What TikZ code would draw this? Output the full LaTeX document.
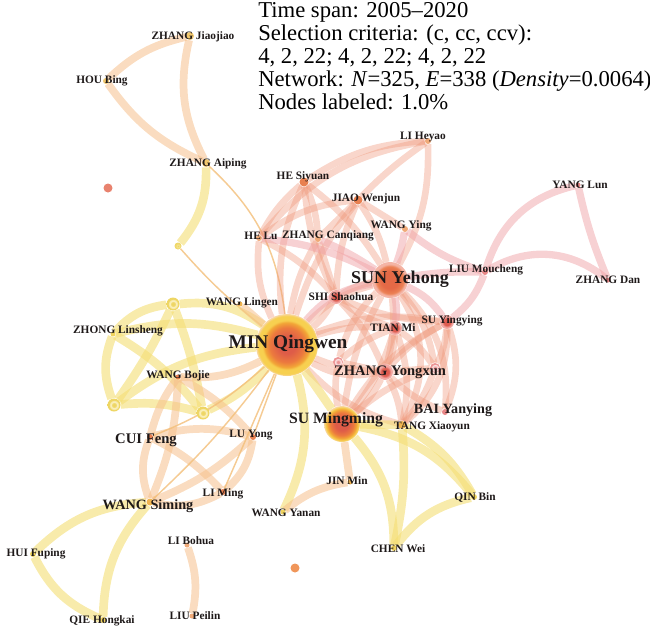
\documentclass[tikz,border=0pt]{standalone}
\usepackage{fontspec}
\setmainfont{Liberation Serif}
\definecolor{eY}{RGB}{244,222,115}
\definecolor{eO}{RGB}{246,192,140}
\definecolor{eS}{RGB}{238,148,118}
\definecolor{eP}{RGB}{240,163,168}
\definecolor{eT}{RGB}{243,190,120}
\definecolor{nYO}{RGB}{242,200,110}
\definecolor{nY}{RGB}{240,212,95}
\definecolor{nO}{RGB}{232,128,80}
\definecolor{nLO}{RGB}{240,170,120}
\definecolor{nP}{RGB}{232,135,135}
\definecolor{nOY}{RGB}{240,180,80}
\definecolor{isoR}{RGB}{232,130,110}
\definecolor{isoO}{RGB}{240,150,90}
\definecolor{lblc}{RGB}{30,25,25}
\definecolor{mcA}{RGB}{222,92,72}
\definecolor{mcB}{RGB}{236,122,62}
\definecolor{mcC}{RGB}{242,165,55}
\definecolor{mcY}{RGB}{247,208,80}
\definecolor{mcH}{RGB}{248,215,170}
\definecolor{scA}{RGB}{228,105,70}
\definecolor{scB}{RGB}{236,130,85}
\definecolor{scH}{RGB}{244,180,165}
\definecolor{dcA}{RGB}{222,92,80}
\definecolor{dcH}{RGB}{242,170,165}
\definecolor{rgY}{RGB}{238,214,100}
\definecolor{rgL}{RGB}{250,240,190}
\definecolor{rpP}{RGB}{236,150,150}
\definecolor{rpL}{RGB}{250,225,225}
\pgfdeclareradialshading{shMin}{\pgfpoint{0bp}{0bp}}{color(0bp)=(mcA); color(7bp)=(mcA); color(14bp)=(mcB); color(18bp)=(mcC); color(20bp)=(mcY); color(23.5bp)=(mcY); color(25bp)=(mcH); color(50bp)=(mcH)}
\pgfdeclareradialshading{shSun}{\pgfpoint{0bp}{0bp}}{color(0bp)=(scA); color(12bp)=(scA); color(19bp)=(scB); color(22bp)=(scH); color(25bp)=(scH); color(50bp)=(scH)}
\pgfdeclareradialshading{shSu}{\pgfpoint{0bp}{0bp}}{color(0bp)=(mcA); color(9bp)=(mcA); color(16bp)=(mcB); color(20bp)=(mcC); color(23bp)=(mcY); color(25bp)=(mcH); color(50bp)=(mcH)}
\pgfdeclareradialshading{shDot}{\pgfpoint{0bp}{0bp}}{color(0bp)=(dcA); color(12bp)=(dcA); color(19bp)=(dcH); color(25bp)=(dcH); color(50bp)=(dcH)}
\pgfdeclareradialshading{shRing}{\pgfpoint{0bp}{0bp}}{color(0bp)=(rgY); color(7bp)=(rgY); color(11bp)=(rgL); color(15bp)=(rgL); color(18bp)=(rgY); color(25bp)=(rgY); color(50bp)=(rgY)}
\pgfdeclareradialshading{shRingP}{\pgfpoint{0bp}{0bp}}{color(0bp)=(rpP); color(7bp)=(rpP); color(12bp)=(rpL); color(16bp)=(rpL); color(19bp)=(rpP); color(25bp)=(rpP); color(50bp)=(rpP)}
\pgfdeclarelayer{edges}
\pgfsetlayers{edges,main}
\begin{document}
\begin{tikzpicture}[x=0.75pt,y=-0.75pt,
  gn/.style={circle,inner sep=0pt,minimum size=#1*0.75pt},
  lab/.style={font=\bfseries\fontsize{8.5}{9}\selectfont,text=lblc,inner sep=0pt},
  ttl/.style={font=\fontsize{17}{18}\selectfont,inner sep=0pt,anchor=base west},
  ey/.style={draw=eY,line width=6.5pt,draw opacity=0.6},
  eo/.style={draw=eO,line width=5.8pt,draw opacity=0.55},
  es/.style={draw=eS,line width=5pt,draw opacity=0.38},
  ep/.style={draw=eP,line width=5.5pt,draw opacity=0.5},
  ethin/.style={draw=eT,line width=1.1pt,draw opacity=0.8}]
\useasboundingbox (0,0) rectangle (650,632);
% title
\node[ttl] (t1) at (258,17) {Time span: 2005--2020};
\node[ttl] (t2) at (258,40) {Selection criteria: (c, cc, ccv):};
\node[ttl] (t3) at (258,63) {4, 2, 22; 4, 2, 22; 4, 2, 22};
\node[ttl] (t4) at (258,86) {Network: \textit{N}=325, \textit{E}=338 (\textit{Density}=0.0064)};
\node[ttl] (t5) at (258,109) {Nodes labeled: 1.0\%};
% network nodes
\node[gn=8,fill=nYO] (zj) at (190,36) {};
\node[gn=6,fill=nYO] (hb) at (106,81) {};
\node[gn=8,fill=nYO] (za) at (206,163) {};
\node[gn=9,fill=isoR] (iso1) at (108,188) {};
\node[gn=7,shade,shading=shRing] (sm1) at (178,246) {};
\node[gn=9,fill=nO] (hs) at (304,182) {};
\node[gn=6,fill=nLO] (lh) at (428,141) {};
\node[gn=9,fill=nO] (jw) at (358,200) {};
\node[gn=6,fill=nLO] (wy) at (405,229) {};
\node[gn=6,fill=nLO] (hl) at (259,238) {};
\node[gn=6,fill=nLO] (zc) at (318,239) {};
\node[gn=36,shade,shading=shSun] (sy) at (390,280) {};
\node[gn=6,fill=nP] (lm) at (485,272) {};
\node[gn=5,fill=nP] (yl) at (578,185) {};
\node[gn=5,fill=nP] (zd) at (608,280) {};
\node[gn=14,shade,shading=shDot] (ss) at (336,297) {};
\node[gn=14,shade,shading=shDot] (syy) at (447,322) {};
\node[gn=14,shade,shading=shDot] (tm) at (395,328) {};
\node[gn=62,shade,shading=shMin] (mq) at (287,345) {};
\node[gn=16,shade,shading=shDot] (zy) at (385,372) {};
\node[gn=10,shade,shading=shRingP] (zs1) at (338,362) {};
\node[gn=10,shade,shading=shRingP] (zs2) at (435,368) {};
\node[gn=36,shade,shading=shSu] (sum) at (342,424) {};
\node[gn=6,fill=nP] (bai) at (445,412) {};
\node[gn=8,fill=nOY] (tx) at (402,425) {};
\node[gn=5,fill=nOY] (wl) at (240,304) {};
\node[gn=13,shade,shading=shRing] (y1) at (173,304) {};
\node[gn=5,fill=nY] (zl) at (113,334) {};
\node[gn=5,fill=nO] (wb) at (178,377) {};
\node[gn=13,shade,shading=shRing] (y2) at (114,405) {};
\node[gn=13,shade,shading=shRing] (y3) at (203,413) {};
\node[gn=6,fill=nO] (cf) at (150,437) {};
\node[gn=6,fill=nO] (lu) at (253,437) {};
\node[gn=6,fill=nO] (lmg) at (223,492) {};
\node[gn=7,fill=nOY] (ws) at (150,502) {};
\node[gn=5,fill=nOY] (jm) at (350,482) {};
\node[gn=5,fill=nY] (wyn) at (283,512) {};
\node[gn=6,fill=nY] (qb) at (474,497) {};
\node[gn=6,fill=nY] (cw) at (394,548) {};
\node[gn=5,fill=nLO] (lb) at (187,545) {};
\node[gn=6,fill=nY] (hf) at (33,554) {};
\node[gn=6,fill=nY] (qh) at (103,620) {};
\node[gn=5,fill=nLO] (lp) at (192,616) {};
\node[gn=9,fill=isoO] (iso2) at (295,568) {};
% labels
\node[lab] (zjL) at (193,37) {ZHANG Jiaojiao};
\node[lab] (hbL) at (102,81) {HOU Bing};
\node[lab] (zaL) at (208,164) {ZHANG Aiping};
\node[lab] (hsL) at (303,177) {HE Siyuan};
\node[lab] (lhL) at (423,137) {LI Heyao};
\node[lab] (jwL) at (366,199) {JIAO Wenjun};
\node[lab] (wyL) at (401,226) {WANG Ying};
\node[lab] (hlL) at (261,236) {HE Lu};
\node[lab] (zcL) at (328,236) {ZHANG Canqiang};
\node[lab,font=\bfseries\fontsize{13.5}{14}\selectfont] (syL) at (400,279) {SUN Yehong};
\node[lab] (lmL) at (486,270) {LIU Moucheng};
\node[lab] (ylL) at (580,185) {YANG Lun};
\node[lab] (zdL) at (608,280) {ZHANG Dan};
\node[lab] (ssL) at (341,297) {SHI Shaohua};
\node[lab] (syyL) at (452,321) {SU Yingying};
\node[lab] (tmL) at (393,328) {TIAN Mi};
\node[lab,font=\bfseries\fontsize{14.5}{15}\selectfont] (mqL) at (288,344) {MIN Qingwen};
\node[lab,font=\bfseries\fontsize{10.9}{11}\selectfont] (zyL) at (390,372) {ZHANG Yongxun};
\node[lab,font=\bfseries\fontsize{11.8}{12}\selectfont] (sumL) at (336,420) {SU Mingming};
\node[lab,font=\bfseries\fontsize{10.6}{11}\selectfont] (baiL) at (453,410) {BAI Yanying};
\node[lab] (txL) at (432,427) {TANG Xiaoyun};
\node[lab] (wlL) at (242,303) {WANG Lingen};
\node[lab] (zlL) at (118,331) {ZHONG Linsheng};
\node[lab] (wbL) at (178,376) {WANG Bojie};
\node[lab,font=\bfseries\fontsize{11}{11}\selectfont] (cfL) at (146,440) {CUI Feng};
\node[lab] (luL) at (251,435) {LU Yong};
\node[lab] (lmgL) at (223,494) {LI Ming};
\node[lab,font=\bfseries\fontsize{10.7}{11}\selectfont] (wsL) at (148,506) {WANG Siming};
\node[lab] (jmL) at (347,481) {JIN Min};
\node[lab] (wynL) at (286,513) {WANG Yanan};
\node[lab] (qbL) at (475,497) {QIN Bin};
\node[lab] (cwL) at (398,549) {CHEN Wei};
\node[lab] (lbL) at (191,541) {LI Bohua};
\node[lab] (hfL) at (36,554) {HUI Fuping};
\node[lab] (qhL) at (102,621) {QIE Hongkai};
\node[lab] (lpL) at (195,616) {LIU Peilin};
% connectors
\begin{pgfonlayer}{edges}
\draw[eo] (hb) to[bend left=15] (zj);
\draw[eo] (zj) to[bend right=20] (za);
\draw[eo] (hb) to[bend right=15] (za);
\draw[ey] (za) to[bend left=20] (sm1);
\draw[ethin] (za) to[bend left=20] (mq);
\draw[ethin] (sm1) to[bend right=5] (mq);
\foreach \a/\b/\c in {hs/lh/15, jw/lh/5, lh/sy/15, hl/jw/15, hl/lh/20, hs/hl/-10, hs/zc/10,
  hs/sy/10, hs/ss/-10, hs/mq/-15, jw/zc/0, jw/sy/10, jw/wy/0, jw/ss/-10, jw/mq/-10,
  hl/mq/-15, hl/ss/10, zc/mq/-10, zc/ss/0, sy/ss/-10, sy/zy/10, sy/mq/-15, sy/zs1/-15,
  sy/sum/-10, sy/zs2/15, sy/tx/30, sy/bai/25, ss/tm/-10, ss/mq/10, ss/zy/10, ss/syy/-10,
  tm/zy/10, tm/mq/-10, tm/sum/10, tm/zs2/10, tm/tx/15, tm/zs1/-10, syy/zy/-10, syy/zs2/10,
  syy/sum/-15, syy/tx/25, syy/mq/-15, syy/bai/20, zy/mq/10, zy/sum/10, zy/zs1/0, zy/zs2/0,
  zy/tx/10, zy/bai/-10, zs1/sum/-10, zs2/tx/10, zs2/sum/-10, mq/tx/-15, mq/zy/-20}
  \draw[es] (\a) to[bend left=\c] (\b);
\foreach \a/\b/\c in {sy/syy/15, sy/tm/10, wy/sy/5, zc/sy/5, hl/sy/10, wy/lm/-10, sy/lm/5,
  syy/lm/-15, lm/yl/30, lm/zd/35, yl/zd/-5, mq/sy/20}
  \draw[ep] (\a) to[bend left=\c] (\b);
\foreach \a/\b/\c in {y1/zl/-20, y1/y2/5, y1/y3/5, y1/mq/20, zl/y2/-20, zl/y3/10, zl/mq/15,
  y2/y3/10, y2/mq/15, y3/mq/-10, ws/hf/-20, hf/qh/-20, ws/qh/-20, sum/tx/0, sum/qb/20,
  tx/qb/15, sum/cw/20, tx/cw/8, qb/cw/-20, mq/sum/0, mq/wyn/20}
  \draw[ey] (\a) to[bend left=\c] (\b);
\foreach \a/\b/\c in {wl/mq/0, cf/lu/15, cf/ws/-20, cf/lmg/10, ws/lu/-10, ws/lmg/-20,
  lu/lmg/20, wb/cf/-10, wb/lu/10, wb/ws/10, mq/wb/15, lb/lp/15, sum/jm/0, jm/wyn/-15}
  \draw[eo] (\a) to[bend left=\c] (\b);
\foreach \a/\b/\c in {mq/ws/5, mq/lmg/0, mq/cf/10, mq/lu/0}
  \draw[ethin] (\a) to[bend left=\c] (\b);
\end{pgfonlayer}
\end{tikzpicture}
\end{document}
